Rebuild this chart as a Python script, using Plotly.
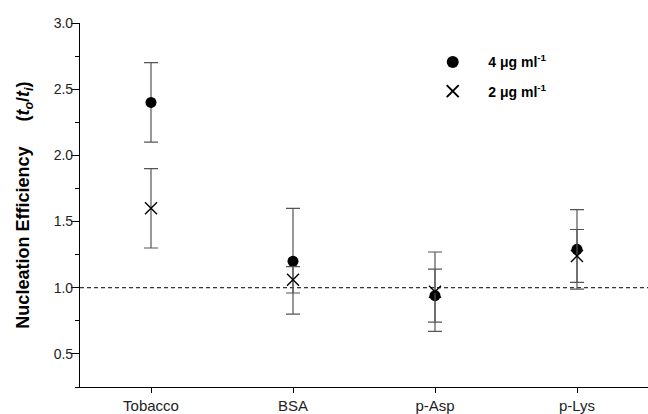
import plotly.graph_objects as go

categories = ["Tobacco", "BSA", "p-Asp", "p-Lys"]
eff_4ug = [2.40, 1.20, 0.94, 1.29]
err_4ug = [0.30, 0.40, 0.20, 0.30]
eff_2ug = [1.60, 1.06, 0.97, 1.24]
err_2ug = [0.30, 0.10, 0.30, 0.20]
y_ticks = [0.5, 1.0, 1.5, 2.0, 2.5, 3.0]
y_minor = [0.25, 0.75, 1.25, 1.75, 2.25, 2.75]

pad = "\u00a0" * 4

fig = go.Figure()
fig.add_trace(go.Scatter(
    x=categories, y=eff_4ug, mode="markers",
    name=pad + "<b>4 μg ml<sup>-1</sup></b>", legendgroup="a",
    marker=dict(symbol="circle", size=11, color="black"),
    error_y=dict(type="data", array=err_4ug, color="#555555", thickness=1.2, width=7),
))
fig.add_trace(go.Scatter(
    x=categories, y=eff_2ug, mode="markers",
    name=pad + "<b>2 μg ml<sup>-1</sup></b>", legendgroup="b",
    marker=dict(symbol="x-thin", size=12, color="black", line=dict(width=1.4, color="black")),
    error_y=dict(type="data", array=err_2ug, color="#555555", thickness=1.2, width=7),
))

fig.add_shape(type="line", xref="paper", yref="y", x0=0, x1=1, y0=1.0, y1=1.0,
              line=dict(color="black", width=1, dash="4px,3px"), layer="below")

fig.update_layout(
    width=648, height=414,
    margin=dict(l=80, r=0, t=23, b=27),
    paper_bgcolor="white", plot_bgcolor="white",
    font=dict(family="Liberation Sans, Arial, sans-serif", size=14, color="#222222"),
    showlegend=True,
    legend=dict(x=0.621, y=0.936, xanchor="left", yanchor="top",
                bgcolor="rgba(0,0,0,0)", font=dict(size=14, color="black"),
                itemsizing="constant", tracegroupgap=8),
    xaxis=dict(
        type="category", categoryorder="array", categoryarray=categories,
        range=[-0.5, 3.5], showgrid=False, zeroline=False,
        showline=True, linecolor="black", linewidth=1.2,
        ticks="outside", ticklen=5, tickcolor="black",
        tickfont=dict(size=15, color="#222222"),
    ),
    yaxis=dict(
        range=[0.25, 3.0], tickvals=y_ticks, ticktext=[f"{v:.1f}" for v in y_ticks],
        showgrid=False, zeroline=False,
        showline=True, linecolor="black", linewidth=1.2,
        ticks="outside", ticklen=8, tickcolor="black",
        ticklabelstandoff=-5,
        tickfont=dict(size=14, color="#222222"),
        minor=dict(tickvals=y_minor, ticks="outside", ticklen=4, tickcolor="black"),
        title=dict(text="\u00a0" * 10 + "<b>Nucleation Efficiency\u00a0\u00a0\u00a0\u00a0\u00a0(<i>t</i><sub><i>o</i></sub>/<i>t</i><sub><i>i</i></sub>)</b>",
                   font=dict(size=18, color="black"), standoff=19),
    ),
)

fig.write_html("out.html")
